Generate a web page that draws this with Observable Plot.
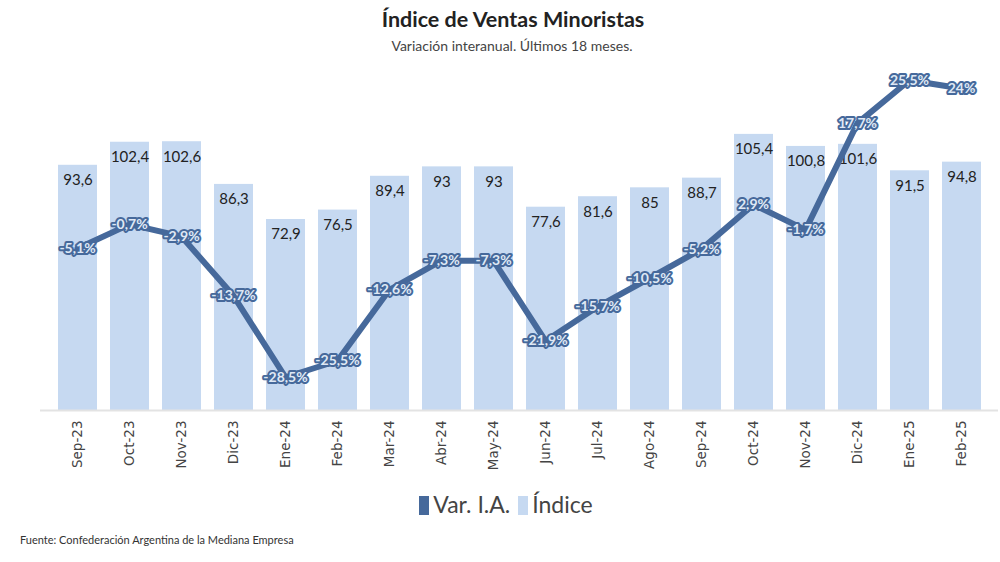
<!DOCTYPE html>
<html>
<head>
<meta charset="utf-8">
<script src="https://cdn.jsdelivr.net/npm/d3@7"></script>
<script src="https://cdn.jsdelivr.net/npm/@observablehq/plot@0.6"></script>
<style>
  html, body { margin: 0; padding: 0; background: #fff; width: 1000px; height: 562px; overflow: hidden; font-family: Lato, "Noto Sans", sans-serif; }
  #title { position: absolute; top: 6px; left: 0; width: 1026px; text-align: center; font-size: 21.5px; font-weight: 700; color: #222; }
  #subtitle { position: absolute; top: 37px; left: 0; width: 1024px; text-align: center; font-size: 14px; color: #444; }
  #bars, #line { position: absolute; top: 60px; left: 0; }
  #legend { position: absolute; top: 490px; left: 0; width: 1004px; text-align: center; font-size: 23px; color: #444; }
  #legend span.sw { display: inline-block; width: 10px; height: 19px; vertical-align: -2px; margin: 0 4px 0 8px; }
  #caption { position: absolute; top: 533px; left: 20px; font-size: 11px; color: #333; }
</style>
</head>
<body>
<div id="title">Índice de Ventas Minoristas</div>
<div id="subtitle">Variación interanual. Últimos 18 meses.</div>
<div id="bars"></div>
<div id="line"></div>
<div id="legend"><span class="sw" style="background:#46699b"></span>Var. I.A.<span class="sw" style="background:#c6d9f1"></span>Índice</div>
<div id="caption">Fuente: Confederación Argentina de la Mediana Empresa</div>
<script>
const months = ["Sep-23","Oct-23","Nov-23","Dic-23","Ene-24","Feb-24","Mar-24","Abr-24","May-24","Jun-24","Jul-24","Ago-24","Sep-24","Oct-24","Nov-24","Dic-24","Ene-25","Feb-25"];
const indice = [93.6,102.4,102.6,86.3,72.9,76.5,89.4,93,93,77.6,81.6,85,88.7,105.4,100.8,101.6,91.5,94.8];
const varIA = [-5.1,-0.7,-2.9,-13.7,-28.5,-25.5,-12.6,-7.3,-7.3,-21.9,-15.7,-10.5,-5.2,2.9,-1.7,17.7,25.5,24];

const fmt = v => String(v).replace(".", ",");
const data = months.map((m, i) => ({month: m, indice: indice[i], varIA: varIA[i]}));

const xOpts = {domain: months, paddingInner: 0.25, paddingOuter: 0.125};

const bars = Plot.plot({
  width: 1000, height: 420,
  marginLeft: 50, marginRight: 12, marginTop: 0, marginBottom: 70,
  style: {fontFamily: "'DejaVu Sans', sans-serif", background: "transparent"},
  x: {...xOpts, label: null, axis: null},
  y: {domain: [0, 133.6], axis: null},
  marks: [
    Plot.barY(data, {x: "month", y: "indice", fill: "#c6d9f1"}),
    Plot.ruleY([0], {stroke: "#e3e3e3", strokeWidth: 2, inset: -10}),
    Plot.text(data, {x: "month", y: "indice", text: d => fmt(d.indice), dy: 15, fill: "#222", fontSize: 15, fontFamily: "Lato, sans-serif"}),
    Plot.axisX({tickSize: 0, tickPadding: 10, tickRotate: -90, fontSize: 13.5, fill: "#444", label: null, fontFamily: "'DejaVu Sans', sans-serif"})
  ]
});
document.getElementById("bars").append(bars);

const line = Plot.plot({
  width: 1000, height: 350,
  marginLeft: 50, marginRight: 12, marginTop: 0, marginBottom: 0,
  style: {background: "transparent"},
  x: {...xOpts, axis: null},
  y: {domain: [-34.545, 29.09], axis: null},
  marks: [
    Plot.line(data, {x: "month", y: "varIA", stroke: "#46699b", strokeWidth: 6, strokeLinejoin: "round"}),
    Plot.text(data, {x: "month", y: "varIA", text: d => fmt(d.varIA) + "%", fill: "#dfe8f5", stroke: "#46699b", strokeWidth: 4, fontSize: 14, fontWeight: "bold", fontFamily: "Lato, sans-serif"})
  ]
});
document.getElementById("line").append(line);
</script>
</body>
</html>
